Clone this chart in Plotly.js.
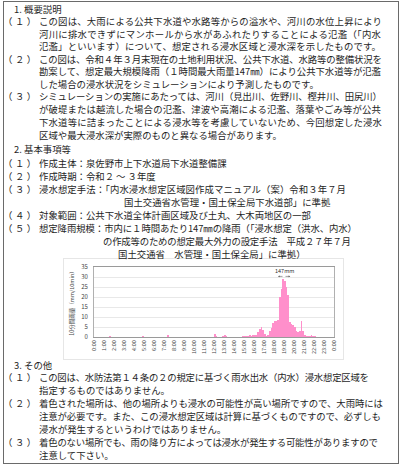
<!DOCTYPE html>
<html><head><meta charset="utf-8">
<script src="https://cdn.plot.ly/plotly-3.0.1.min.js"></script>
<style>
html,body{margin:0;padding:0;background:#fff;width:404px;height:467px;overflow:hidden;}
#frame{position:absolute;left:3px;top:1px;width:396px;height:463px;border:1px solid #6a6a6a;box-sizing:border-box;}
.ln{position:absolute;white-space:nowrap;font-family:"Noto Sans CJK JP","Noto Sans CJK SC",sans-serif;font-size:9.4px;line-height:10px;height:10px;color:#1e1e1e;}
.lb{letter-spacing:2.5px;}
#chart{position:absolute;left:63px;top:258px;width:281px;height:102px;border:1px solid #e6e6e6;box-sizing:border-box;}
</style></head><body>
<div id="frame"></div>
<div id="chart"></div>
<script>
// ---- chart data ----
const tickLabels = ["0:00","1:00","2:00","3:00","4:00","5:00","6:00","7:00","8:00","9:00","10:00","11:00",
  "12:00","13:00","14:00","15:00","16:00","17:00","18:00","19:00","20:00","21:00","22:00","23:00","0:00"];
// 10-minute rainfall (mm/10min), one row per hour, six 10-minute slots each
const rainByHour = [
  [0,0,0,0,0,0],          // 0:00
  [0,0,0,0.3,0,0],        // 1:00
  [0,0,0,0,0,0],          // 2:00
  [0,0,0,0,0,0],          // 3:00
  [0,0,0,0,0,0.3],        // 4:00
  [0,0,0,0,0,0],          // 5:00
  [0,0,0,0,0,0],          // 6:00
  [0,0,0.9,0,0,0],        // 7:00
  [0,0,0,0,0,0],          // 8:00
  [0,0,0,0,0,0],          // 9:00
  [0,0,0,0,0,0],          // 10:00
  [0,0,0,0,0,0],          // 11:00
  [1.3,0.5,0,0,0,0.4],    // 12:00
  [0.8,0.4,0,0,0,0],      // 13:00
  [0,0,0,0,0,0.3],        // 14:00
  [0.5,0.7,0.6,0.8,0.7,0.9], // 15:00
  [1.0,1.2,2.5,4.0,5.0,3.5], // 16:00
  [1.5,0.6,0.8,3.0,4.5,7.0], // 17:00
  [7.8,8.0,8.5,20.0,24.0,29.0], // 18:00
  [28.0,25.0,21.0,7.5,6.5,6.0], // 19:00
  [5.0,3.0,2.5,2.8,8.0,3.0],    // 20:00
  [1.0,0.6,0.5,0.6,0.8,0.5],    // 21:00
  [0.3,0,0,0,0,0],        // 22:00
  [0,0,0,0,0,0]           // 23:00
];
const peakLabel = "147mm";
const yTitle = "10分間雨量（mm/10min）";

// ---- document text ----
const lines = [
  [14,8.5,"1."],[24,8.5,"概要説明"],
  [3,21,"（１）","L"],[39,21,"この図は、大雨による公共下水道や水路等からの溢水や、河川の水位上昇により",382],
  [39,33.5,"河川に排水できずにマンホールから水があふれたりすることによる氾濫（「内水",381],
  [39,46,"氾濫」といいます）について、想定される浸水区域と浸水深を示したものです。",381],
  [3,58.5,"（２）","L"],[39,58.5,"この図は、令和４年３月末現在の土地利用状況、公共下水道、水路等の整備状況を",382],
  [39,71,"勘案して、想定最大規模降雨（１時間最大雨量147㎜）により公共下水道等が氾濫",381],
  [39,83.5,"した場合の浸水状況をシミュレーションにより予測したものです。"],
  [3,96,"（３）","L"],[39,96,"シミュレーションの実施にあたっては、河川（見出川、佐野川、樫井川、田尻川）",382],
  [39,108.5,"が破堤または越流した場合の氾濫、津波や高潮による氾濫、落葉やごみ等が公共",381],
  [39,122,"下水道等に詰まったことによる浸水等を考慮していないため、今回想定した浸水",382],
  [39,135,"区域や最大浸水深が実際のものと異なる場合があります。"],
  [14,149,"2."],[24,149,"基本事項等"],
  [3,162.5,"（１）","L"],[39,162.5,"作成主体：泉佐野市上下水道局下水道整備課"],
  [3,176,"（２）","L"],[39,176,"作成時期：令和２ ～ ３年度"],
  [3,189,"（３）","L"],[39,189,"浸水想定手法：「内水浸水想定区域図作成マニュアル（案）令和３年７月",346],
  [124,202,"国土交通省水管理・国土保全局下水道部」に準拠"],
  [3,215,"（４）","L"],[39,215,"対象範囲：公共下水道全体計画区域及び土丸、大木両地区の一部"],
  [3,228,"（５）","L"],[39,228,"想定降雨規模：市内に１時間あたり147㎜の降雨（「浸水想定（洪水、内水）",357],
  [103,241,"の作成等のための想定最大外力の設定手法　平成２７年７月",351],
  [118,254,"国土交通省　水管理・国土保全局」に準拠）"],
  [14,364.5,"3."],[24,364.5,"その他"],
  [3,377,"（１）","L"],[39,377,"この図は、水防法第１４条の２の規定に基づく雨水出水（内水）浸水想定区域を",369],
  [39,390,"指定するものではありません。"],
  [3,403,"（２）","L"],[39,403,"着色された場所は、他の場所よりも浸水の可能性が高い場所ですので、大雨時には",383],
  [39,416,"注意が必要です。また、この浸水想定区域は計算に基づくものですので、必ずしも",381],
  [39,428.5,"浸水が発生するというわけではありません。"],
  [3,442,"（３）","L"],[39,442,"着色のない場所でも、雨の降り方によっては浸水が発生する可能性がありますので",378],
  [39,454.5,"注意して下さい。"]
];

lines.forEach(l=>{
  const d=document.createElement('div');
  d.className='ln'+(l[3]==='L'?' lb':'');
  d.textContent=l[2];
  d.style.left=l[0]+'px';
  d.style.top=(l[1]-5)+'px';
  document.body.appendChild(d);
  if(typeof l[3]==='number'){
    const w=d.getBoundingClientRect().width;
    const n=[...l[2]].length;
    let ls=(l[3]-l[0]-w)/(n-1);
    ls=Math.max(-1.5,Math.min(2,ls));
    d.style.letterSpacing=ls+'px';
  }
});

// ---- chart ----
const rain = rainByHour.flat();
const slotCenter = rain.map((v,i)=>i*10+5);
const tickVals = tickLabels.map((t,i)=>i*60);

Plotly.newPlot('chart',[{
  type:'bar', x:slotCenter, y:rain, width:10,
  marker:{color:'#ff8fcb', line:{width:0}}, hoverinfo:'none'
}],{
  width:279, height:100,
  margin:{l:30,r:9,t:8,b:22},
  paper_bgcolor:'#fff', plot_bgcolor:'#fff',
  bargap:0, showlegend:false,
  font:{family:'"Noto Sans CJK JP", sans-serif', size:6, color:'#444'},
  xaxis:{range:[0,1440], tickmode:'array', tickvals:tickVals, ticktext:tickLabels, tickangle:-90,
    showgrid:false, showline:true, linecolor:'#9a9a9a', linewidth:1, mirror:true, ticks:'',
    zeroline:false, fixedrange:true, tickfont:{size:5.5,color:'#444'}},
  yaxis:{range:[0,35], tickmode:'linear', tick0:0, dtick:5, showgrid:true, gridcolor:'#dedede', gridwidth:0.7,
    showline:true, linecolor:'#b0b0b0', linewidth:1, mirror:true, ticks:'', zeroline:false,
    ticklabelstandoff:4, tickfont:{size:6,color:'#444'},
    title:{text:yTitle, font:{size:5.5,color:'#444'}, standoff:6}},
  annotations:[
    {x:1140,y:32.9,xref:'x',yref:'y',text:peakLabel,showarrow:false,font:{size:5.5,color:'#333'}},
    {x:1104,y:30.3,ax:1140,ay:30.3,axref:'x',ayref:'y',xref:'x',yref:'y',text:'',showarrow:true,
      arrowhead:2,arrowsize:0.6,arrowwidth:0.6,arrowcolor:'#666'},
    {x:1178,y:30.3,ax:1140,ay:30.3,axref:'x',ayref:'y',xref:'x',yref:'y',text:'',showarrow:true,
      arrowhead:2,arrowsize:0.6,arrowwidth:0.6,arrowcolor:'#666'}
  ]
},{staticPlot:true,displayModeBar:false});
</script>
</body></html>
